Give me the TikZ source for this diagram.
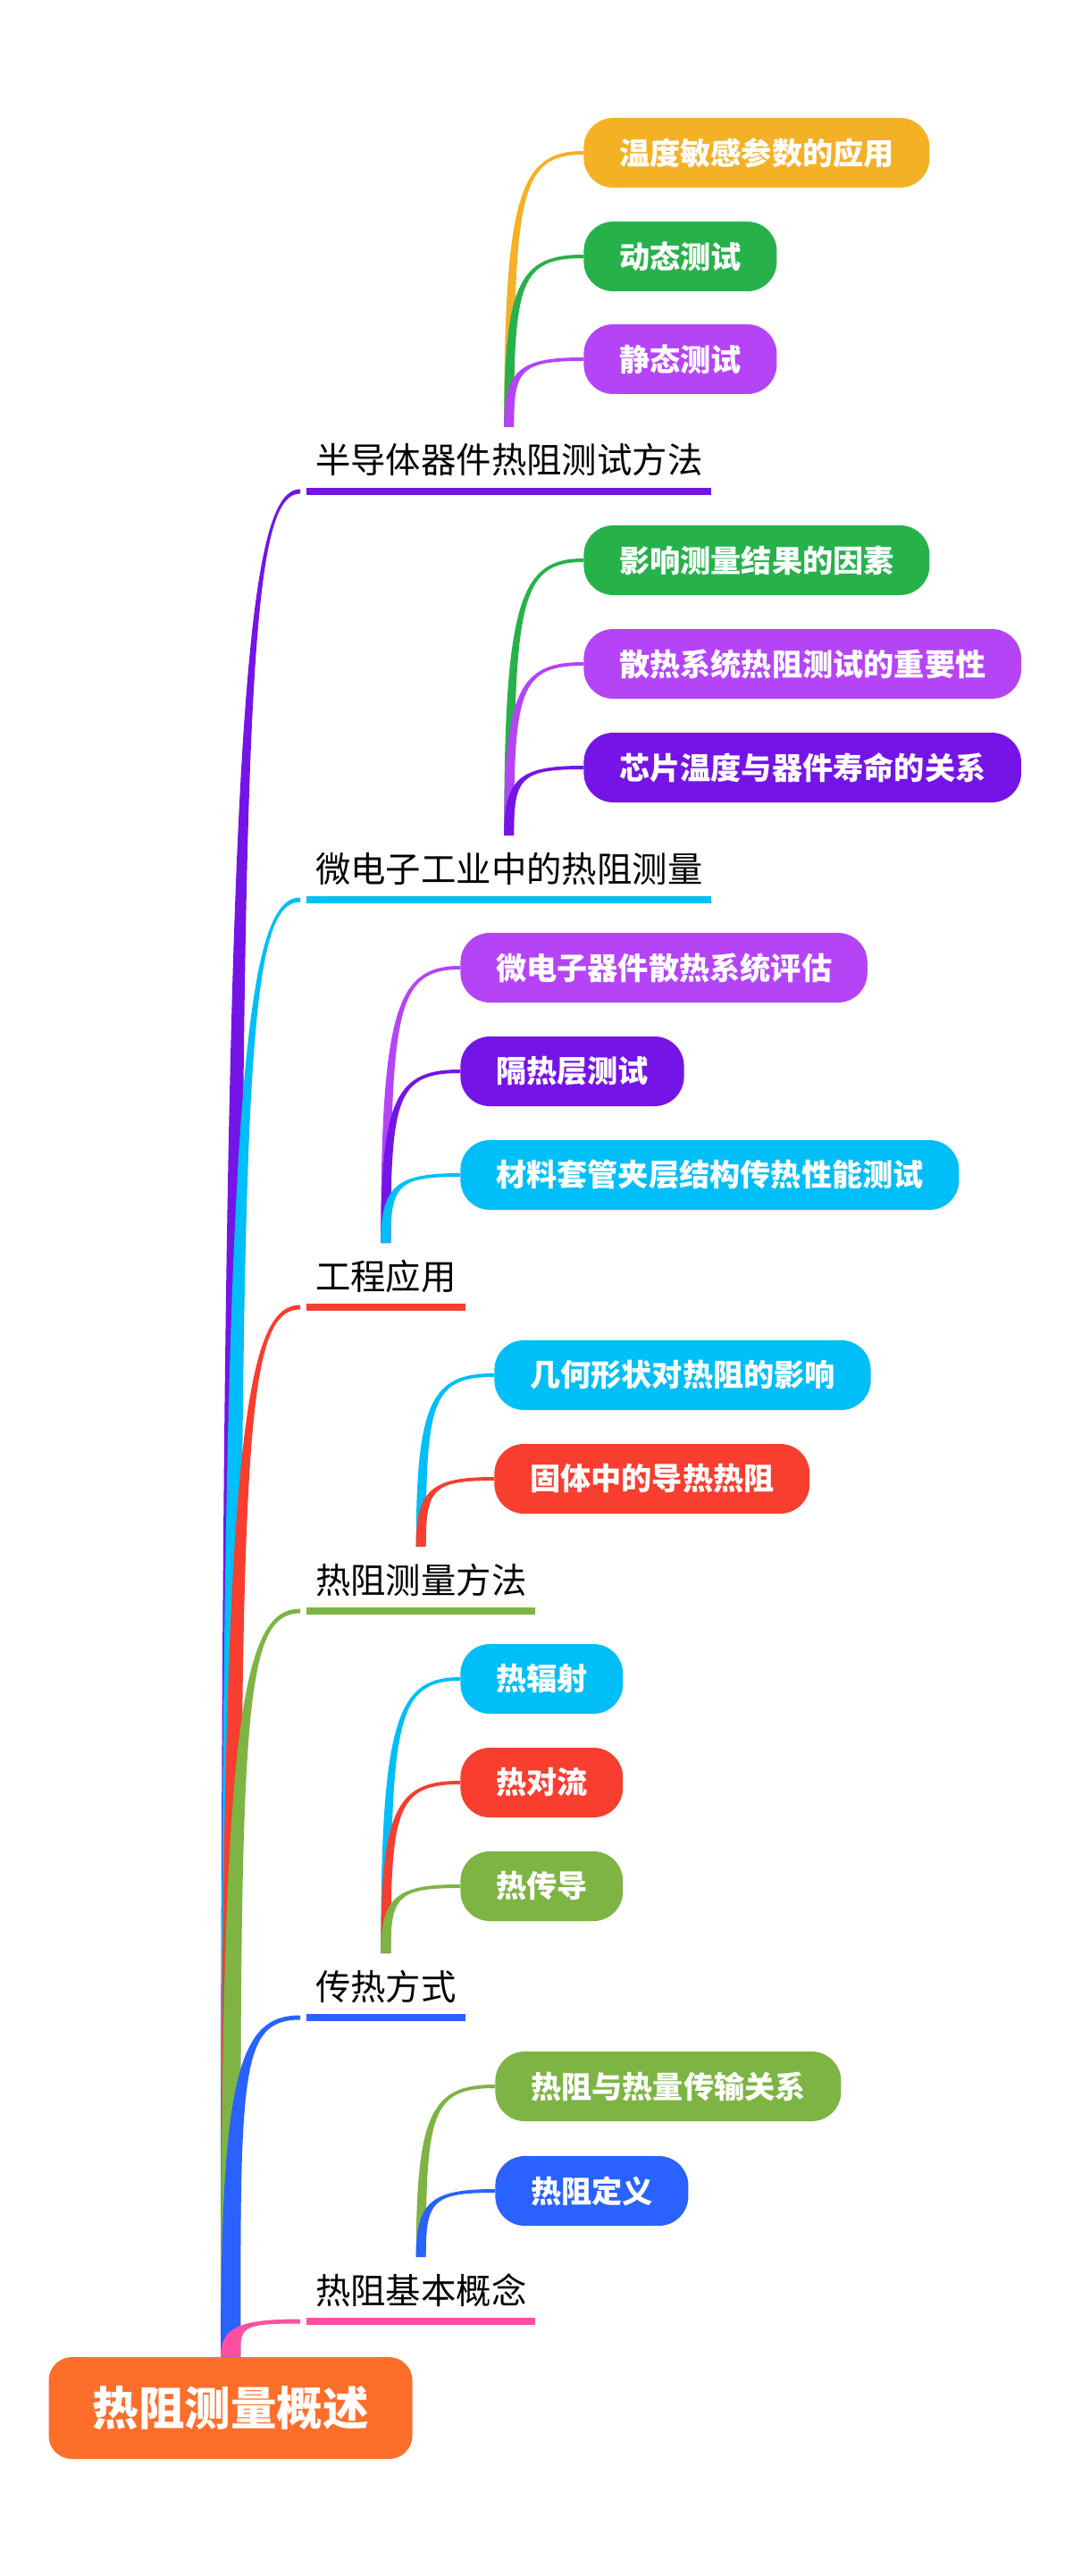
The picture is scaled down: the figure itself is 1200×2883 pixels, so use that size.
\documentclass[tikz,border=0pt]{standalone}
\usepackage{fontspec}
\newfontfamily\cjk{Noto Sans CJK SC}
\usetikzlibrary{calc}

\definecolor{cOrange}{HTML}{FE6E2B}
\definecolor{cPurple}{HTML}{7514E6}
\definecolor{cViolet}{HTML}{B544F7}
\definecolor{cCyan}{HTML}{00BEF7}
\definecolor{cRed}{HTML}{F73E2F}
\definecolor{cOlive}{HTML}{7DB443}
\definecolor{cBlue}{HTML}{2962FF}
\definecolor{cPink}{HTML}{FF4FA3}
\definecolor{cGreen}{HTML}{27B14B}
\definecolor{cAmber}{HTML}{F4B126}

% tapered curve: colour, from, to, half width at start, half width at end
\newcommand{\limb}[5]{%
\fill[#1] ($(#2)+(-#4,0)$) .. controls ($(#2)!0.85!(#2|-#3)+(-#4,0)$) and ($(#3)!0.85!(#2|-#3)+(0,-#5)$) .. ($(#3)+(0,-#5)$)
 -- ($(#3)+(0,#5)$) .. controls ($(#3)!0.85!(#2|-#3)+(0,#5)$) and ($(#2)!0.85!(#2|-#3)+(#4,0)$) .. ($(#2)+(#4,0)$) -- cycle;}

\begin{document}
\begin{tikzpicture}[x=0.5pt, y=-0.5pt,
	rootbox/.style={fill=cOrange, text=white, rounded corners=13pt, minimum height=57pt, inner xsep=24.5pt, font=\cjk\bfseries\fontsize{25.75pt}{30pt}\selectfont},
	topic/.style={anchor=base west, inner sep=0pt, outer sep=0pt, font=\cjk\fontsize{19.7pt}{24pt}\selectfont},
	leafbox/.style={anchor=west, fill=#1, text=white, rounded corners=16.5pt, minimum height=39pt, inner xsep=19.8pt, inner ysep=0pt, font=\cjk\bfseries\fontsize{17.1pt}{20pt}\selectfont},
	uline/.style={line width=4.25pt, draw=#1}]
\useasboundingbox (0,0) rectangle (1200,2883);

\node[rootbox] (root) at (258, 2695) {热阻测量概述};

\node[topic] (t1) at (353, 530) {半导体器件热阻测试方法};
\node[topic] (t2) at (353, 987) {微电子工业中的热阻测量};
\node[topic] (t3) at (353, 1443) {工程应用};
\node[topic] (t4) at (353, 1783) {热阻测量方法};
\node[topic] (t5) at (353, 2238) {传热方式};
\node[topic] (t6) at (353, 2578) {热阻基本概念};

\draw[uline=cPurple] ([xshift=-5pt,yshift=-10pt]t1.base west) -- ([xshift=5pt,yshift=-10pt]t1.base east);
\draw[uline=cCyan] ([xshift=-5pt,yshift=-10pt]t2.base west) -- ([xshift=5pt,yshift=-10pt]t2.base east);
\draw[uline=cRed] ([xshift=-5pt,yshift=-10pt]t3.base west) -- ([xshift=5pt,yshift=-10pt]t3.base east);
\draw[uline=cOlive] ([xshift=-5pt,yshift=-10pt]t4.base west) -- ([xshift=5pt,yshift=-10pt]t4.base east);
\draw[uline=cBlue] ([xshift=-5pt,yshift=-10pt]t5.base west) -- ([xshift=5pt,yshift=-10pt]t5.base east);
\draw[uline=cPink] ([xshift=-5pt,yshift=-10pt]t6.base west) -- ([xshift=5pt,yshift=-10pt]t6.base east);

% ends of the trunk lines, roots of the small branches
\coordinate (e1) at ([xshift=-8.5pt,yshift=-10pt]t1.base west);
\coordinate (e2) at ([xshift=-8.5pt,yshift=-10pt]t2.base west);
\coordinate (e3) at ([xshift=-8.5pt,yshift=-10pt]t3.base west);
\coordinate (e4) at ([xshift=-8.5pt,yshift=-10pt]t4.base west);
\coordinate (e5) at ([xshift=-8.5pt,yshift=-10pt]t5.base west);
\coordinate (e6) at ([xshift=-8.5pt,yshift=-10pt]t6.base west);
\coordinate (s1) at ([yshift=26pt]t1.base);
\coordinate (s2) at ([yshift=26pt]t2.base);
\coordinate (s3) at ([yshift=26pt]t3.base);
\coordinate (s4) at ([yshift=26pt]t4.base);
\coordinate (s5) at ([yshift=26pt]t5.base);
\coordinate (s6) at ([yshift=26pt]t6.base);

\limb{cPurple}{root.north}{e1}{11}{2.5}
\limb{cCyan}{root.north}{e2}{11}{2.5}
\limb{cRed}{root.north}{e3}{11}{2.5}
\limb{cOlive}{root.north}{e4}{11}{2.5}
\limb{cBlue}{root.north}{e5}{11}{2.5}
\limb{cPink}{root.north}{e6}{11}{2.5}

\node[leafbox=cAmber] (n1a) at (653, 171) {温度敏感参数的应用};
\node[leafbox=cGreen] (n1b) at (653, 287) {动态测试};
\node[leafbox=cViolet] (n1c) at (653, 402) {静态测试};
\limb{cAmber}{s1}{n1a.west}{5.5}{2}
\limb{cGreen}{s1}{n1b.west}{5.5}{2}
\limb{cViolet}{s1}{n1c.west}{5.5}{2}

\node[leafbox=cGreen] (n2a) at (653, 627) {影响测量结果的因素};
\node[leafbox=cViolet] (n2b) at (653, 743) {散热系统热阻测试的重要性};
\node[leafbox=cPurple] (n2c) at (653, 859) {芯片温度与器件寿命的关系};
\limb{cGreen}{s2}{n2a.west}{5.5}{2}
\limb{cViolet}{s2}{n2b.west}{5.5}{2}
\limb{cPurple}{s2}{n2c.west}{5.5}{2}

\node[leafbox=cViolet] (n3a) at (515, 1083) {微电子器件散热系统评估};
\node[leafbox=cPurple] (n3b) at (515, 1199) {隔热层测试};
\node[leafbox=cCyan] (n3c) at (515, 1315) {材料套管夹层结构传热性能测试};
\limb{cViolet}{s3}{n3a.west}{5.5}{2}
\limb{cPurple}{s3}{n3b.west}{5.5}{2}
\limb{cCyan}{s3}{n3c.west}{5.5}{2}

\node[leafbox=cCyan] (n4a) at (553, 1539) {几何形状对热阻的影响};
\node[leafbox=cRed] (n4b) at (553, 1655) {固体中的导热热阻};
\limb{cCyan}{s4}{n4a.west}{5.5}{2}
\limb{cRed}{s4}{n4b.west}{5.5}{2}

\node[leafbox=cCyan] (n5a) at (515, 1879) {热辐射};
\node[leafbox=cRed] (n5b) at (515, 1995) {热对流};
\node[leafbox=cOlive] (n5c) at (515, 2111) {热传导};
\limb{cCyan}{s5}{n5a.west}{5.5}{2}
\limb{cRed}{s5}{n5b.west}{5.5}{2}
\limb{cOlive}{s5}{n5c.west}{5.5}{2}

\node[leafbox=cOlive] (n6a) at (554, 2335) {热阻与热量传输关系};
\node[leafbox=cBlue] (n6b) at (554, 2452) {热阻定义};
\limb{cOlive}{s6}{n6a.west}{5.5}{2}
\limb{cBlue}{s6}{n6b.west}{5.5}{2}

\end{tikzpicture}
\end{document}
